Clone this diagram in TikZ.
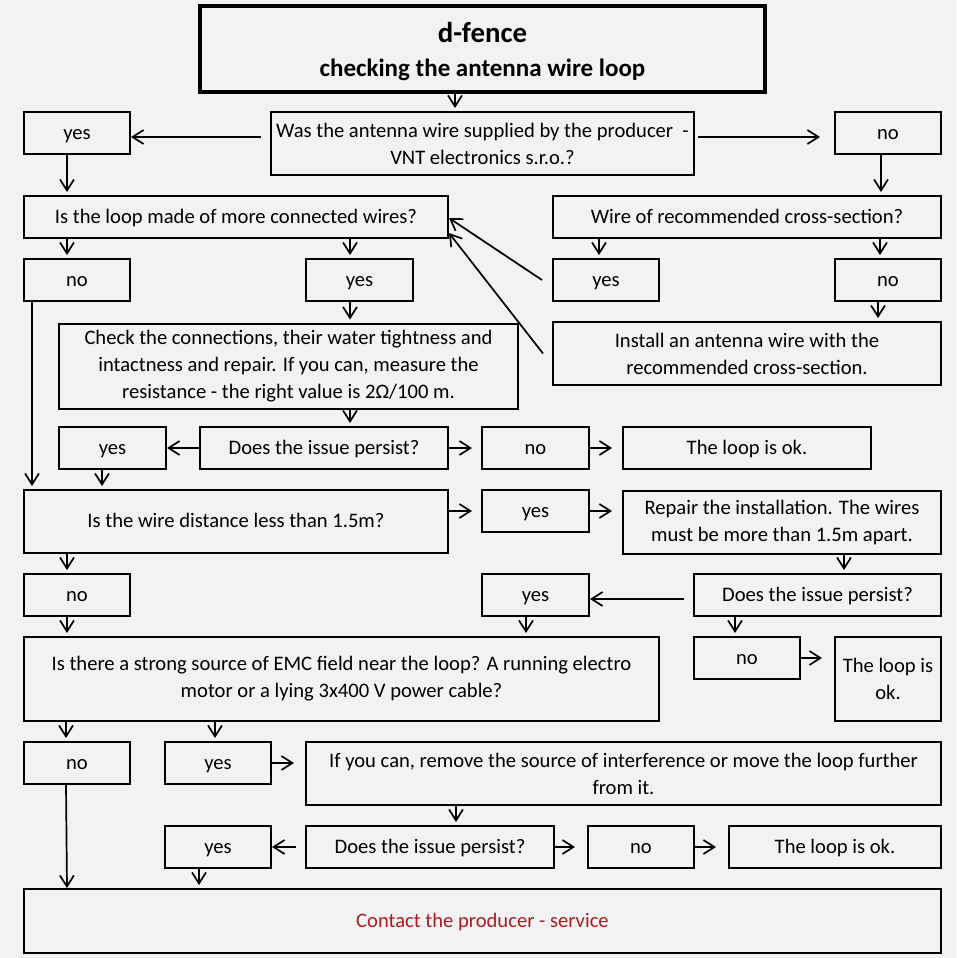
\documentclass[tikz,border=0pt]{standalone}
\usepackage{fontspec}
\setmainfont{Carlito}
\usetikzlibrary{arrows.meta,calc}
\definecolor{bgcol}{HTML}{F2F2F2}
\definecolor{servicered}{RGB}{170,28,32}
\begin{document}
\begin{tikzpicture}[x=1pt,y=-1pt,font=\fontsize{20.6}{27}\selectfont,
  box/.style n args={2}{draw,line width=2pt,inner sep=0pt,align=center,
    minimum width=#1pt,minimum height=#2pt},
  oneline/.style={text height=17pt,text depth=5pt},
  arr/.style={line width=1.7pt,-{Straight Barb[length=11pt,width=14pt]}}]

\fill[bgcol] (0,0) rectangle (956,958);

\node[box={565}{86},line width=4pt,text depth=-1pt,font=\fontsize{25}{34}\selectfont\bfseries] (title) at (482.5,49)
  {{\fontsize{28.8}{34}\selectfont d-fence}\\checking the antenna wire loop};

\node[box={106}{42},oneline] (yes1) at (77,133) {yes};
\node[box={423}{63}] (q1) at (482.5,143.5) {Was the antenna wire supplied by the producer \ -\\VNT electronics s.r.o.?};
\node[box={106}{42},oneline] (no1) at (888,133) {no};
\node[box={424}{42},oneline] (q2) at (236,217) {Is the loop made of more connected wires?};
\node[box={388}{42},oneline] (q3) at (747,217) {Wire of recommended cross-section?};
\node[box={106}{42},oneline] (no2) at (77,280) {no};
\node[box={107}{42},oneline] (yes2) at (359.5,280) {yes};
\node[box={106}{42},oneline] (yes3) at (606,280) {yes};
\node[box={106}{42},oneline] (no3) at (888,280) {no};
\node[box={459}{85}] (check) at (288.5,366) {Check the connections, their water tightness and\\intactness and repair. If you can, measure the\\resistance - the right value is 2Ω/100 m.};
\node[box={388}{63}] (install) at (747,353.5) {Install an antenna wire with the\\recommended cross-section.};
\node[box={107}{42},oneline] (yes4) at (112.5,448) {yes};
\node[box={248}{42},oneline] (persist1) at (324,448) {Does the issue persist?};
\node[box={107}{42},oneline] (no4) at (535.5,448) {no};
\node[box={248}{42},oneline] (ok1) at (747,448) {The loop is ok.};
\node[box={424}{63},oneline] (q4) at (236,521.5) {Is the wire distance less than 1.5m?};
\node[box={107}{42},oneline] (yes5) at (535.5,511) {yes};
\node[box={318}{63}] (repair) at (782,522.5) {Repair the installation. The wires\\must be more than 1.5m apart.};
\node[box={106}{42},oneline] (no6) at (77,595) {no};
\node[box={107}{42},oneline] (yes6) at (535.5,595) {yes};
\node[box={247}{42},oneline] (persist2) at (817.5,595) {Does the issue persist?};
\node[box={635}{84}] (q5) at (341.5,679) {Is there a strong source of EMC field near the loop? A running electro\\motor or a lying 3x400 V power cable?};
\node[box={106}{42},oneline] (no5) at (747,658) {no};
\node[box={106}{84}] (ok2) at (888,679) {The loop is\\ok.};
\node[box={106}{42},oneline] (no7) at (77,763) {no};
\node[box={106}{42},oneline] (yes7) at (218,763) {yes};
\node[box={635}{63}] (remove) at (623.5,773.5) {If you can, remove the source of interference or move the loop further\\from it.};
\node[box={106}{42},oneline] (yes8) at (218,847) {yes};
\node[box={248}{42},oneline] (persist3) at (430,847) {Does the issue persist?};
\node[box={106}{42},oneline] (no8) at (641,847) {no};
\node[box={212}{42},oneline] (ok3) at (835,847) {The loop is ok.};
\node[box={917}{64},oneline,text=servicered] (contact) at (482.5,921) {Contact the producer - service};

% downward arrows
\foreach \a/\b/\x in {title/q1/455,yes1/q2/67,no1/q3/881,q2/no2/67,q2/yes2/350,
  q3/yes3/599,q3/no3/880,no3/install/878,yes2/check/350,check/persist1/350,
  no2/q4/32,yes4/q4/102,repair/persist2/844,yes6/q5/526,persist2/no5/735,
  q4/no6/67,no6/q5/67,q5/no7/66,q5/yes7/215,remove/persist3/456,yes8/contact/199}
  \draw[arr,shorten >=3pt] (\a.south -| \x,0) -- (\b.north -| \x,0);
\draw[arr] (no7.south -| 66,0) -- (contact.north -| 67,0);

% sideways arrows
\draw[arr,shorten <=9pt] (q1.west |- 0,137) -- (yes1.east |- 0,137);
\draw[arr,shorten <=3pt,shorten >=14pt] (q1.east |- 0,137) -- (no1.west |- 0,137);
\draw[arr] ($(yes3.west)+(-10,0)$) -- (q2.east |- 0,218);
\draw[arr] ($(install.west)+(-9,0)$) -- (q2.east |- 0,233);
\draw[arr] (persist1.west) -- (yes4.east);
\draw[arr,shorten >=9pt] (persist1.east) -- (no4.west);
\draw[arr,shorten >=10pt] (no4.east) -- (ok1.west);
\draw[arr,shorten >=9pt] (q4.east |- yes5) -- (yes5.west);
\draw[arr,shorten >=10pt] (yes5.east) -- (repair.west |- yes5);
\draw[arr,shorten <=9pt] (persist2.west |- 0,599) -- (yes6.east |- 0,599);
\draw[arr,shorten >=12pt] (no5.east) -- (ok2.west |- no5);
\draw[arr,shorten >=11pt] (yes7.east) -- (remove.west |- yes7);
\draw[arr,shorten <=9pt] (persist3.west) -- (yes8.east);
\draw[arr,shorten >=12pt] (persist3.east) -- (no8.west);
\draw[arr,shorten >=12pt] (no8.east) -- (ok3.west);

\end{tikzpicture}
\end{document}
